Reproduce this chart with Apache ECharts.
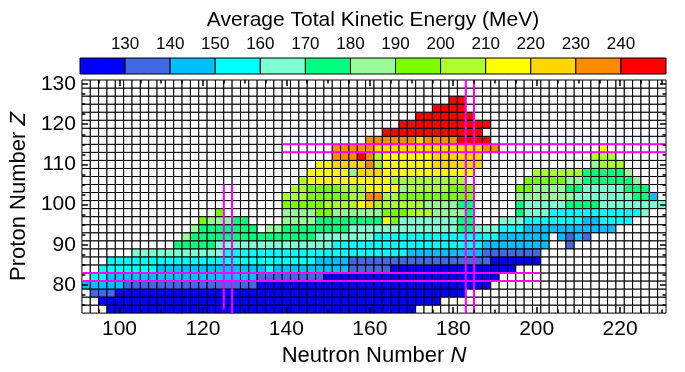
<!DOCTYPE html>
<html>
<head>
<meta charset="utf-8">
<script src="https://cdn.jsdelivr.net/npm/echarts@6/dist/echarts.min.js"></script>
<style>
  html, body { margin: 0; padding: 0; background: #fff; }
  #chart { width: 685px; height: 372px; }
</style>
</head>
<body>
<div id="chart"></div>
<script>
// colour scale (MeV)
const binEdges = [130, 140, 150, 160, 170, 180, 190, 200, 210, 220, 230, 240]
const binColors = ['#0000ff', '#4169e1', '#00bfff', '#00ffff', '#7fffd4', '#00ff7f', '#98fb98',
  '#7cfc00', '#adff2f', '#ffff00', '#ffd700', '#ff8c00', '#ff0000']
const binTke = [125, 135, 145, 155, 165, 175, 185, 195, 205, 215, 225, 235, 245]
const colorbarRange = [120, 250]

// even-even nuclei: one string per Z (74, 76, ... 130), one char per N (92, 94, ... 230)
// written in groups of 10 columns; '.' = no data, 0..c = colour bin
const neutronStart = 92
const protonStart = 74
const tkeRows = [
  '...0000000 0000000000 0000000000 0000000000 .......... .......... ..........',
  '..00000000 0000000000 0000000000 0000000000 000....... .......... ..........',
  '.111000000 0000000000 0000000000 0000000000 000000.... .......... ..........',
  '2222211111 1111111111 1000000000 0000000000 000000000. .......... ..........',
  '.332222222 2222222222 2111111110 0000000000 0000000000 .......... ..........',
  '..33333332 2222222222 2232222222 2211111000 0000000000 00........ ..........',
  '...3333333 3333333333 3333333322 2211111111 1111111110 00000..... ..........',
  '......4444 4444444333 3333333333 3333333332 2222222211 11111..... ..........',
  '.......... .555554444 4444444444 3333333333 3333333322 222222..1. ..........',
  '.......... ..65555555 5555555544 4444433333 3333333333 222222.212 1.........',
  '.......... ...6555555 5.66555555 5544444444 4444455444 3332222222 2222......',
  '.......... ....766655 ....666655 5555559744 4444455... 4443333333 223333....',
  '.......... ......7... ....666677 6666667778 8866665... ..54443333 33333334..',
  '.......... .......... ....777778 8889a88888 8666655... ..54444455 5544444444',
  '.......... .......... ....888777 7788bb8877 7777777... ..66666664 444444552.',
  '.......... .......... .....88777 7888999968 8888777... ..77666655 44444555..',
  '.......... .......... ......8999 9999999888 888888.... ...7777766 5555556...',
  '.......... .......... .......999 996aaa9999 9999999... ....888888 555556....',
  '.......... .......... ........99 aaaab89999 99aaaaaa.. .......... .6888.....',
  '.......... .......... .......... bbbcb89999 99aaaaaa.. .......... .888......',
  '.......... .......... .......... bbbbbaaaaa aaaaaaaabb .......... ..9.......',
  '.......... .......... .......... ....bbbbbb abbbbcccc. .......... ..........',
  '.......... .......... .......... ......cccc cccccccc.. .......... ..........',
  '.......... .......... .......... ........cc ccccccccc. .......... ..........',
  '.......... .......... .......... .......... ccccccc... .......... ..........',
  '.......... .......... .......... .......... ..cccc.... .......... ..........',
  '.......... .......... .......... .......... ....cc.... .......... ..........',
  '.......... .......... .......... .......... .......... .......... ..........',
  '.......... .......... .......... .......... .......... .......... ..........'
]

const xTicks = [100, 120, 140, 160, 180, 200, 220]
const xMinorTicks = [95, 105, 110, 115, 125, 130, 135, 145, 150, 155, 165, 170, 175, 185, 190, 195, 205, 210, 215, 225, 230]
const yTicks = [80, 90, 100, 110, 120, 130]
const yMinorTicks = [75, 77.5, 82.5, 85, 87.5, 92.5, 95, 97.5, 102.5, 105, 107.5, 112.5, 115, 117.5, 122.5, 125, 127.5]

// magic numbers N=126, 184 and Z=82, 114 (pairs of lines around the cell)
const magicN = [[125, 73, 105], [127, 73, 105], [183, 73, 131], [185, 73, 131]]
const magicZ = [[81, 91, 201], [83, 91, 201], [113, 139, 231], [115, 139, 231]]

const font = '"Liberation Sans", Arial, sans-serif'

function colorFor(v) {
  if (!v) return '#ffffff'
  for (let i = 0; i < binEdges.length; i++) {
    if (v < binEdges[i]) return binColors[i]
  }
  return binColors[binColors.length - 1]
}

const cells = []
tkeRows.forEach((row, r) => {
  const clean = row.replace(/ /g, '')
  for (let c = 0; c < clean.length; c++) {
    const ch = clean[c]
    cells.push([neutronStart + 2 * c, protonStart + 2 * r, ch === '.' ? 0 : binTke[parseInt(ch, 16)]])
  }
})

const boxes = binColors.map((col, i) => [
  i === 0 ? colorbarRange[0] : binEdges[i - 1],
  i === binEdges.length ? colorbarRange[1] : binEdges[i],
  i
])

const chart = echarts.init(document.getElementById('chart'))

const magicSeries = magicN.map(l => ({
  type: 'line', xAxisIndex: 0, yAxisIndex: 0, silent: true, symbol: 'none', z: 5,
  lineStyle: { color: '#ff00ff', width: 2 },
  data: [[l[0], l[1]], [l[0], l[2]]]
})).concat(magicZ.map(l => ({
  type: 'line', xAxisIndex: 0, yAxisIndex: 0, silent: true, symbol: 'none', z: 5,
  lineStyle: { color: '#ff00ff', width: 2 },
  data: [[l[1], l[0]], [l[2], l[0]]]
})))

const nameStyle = {
  fontSize: 22, color: '#000', fontFamily: font,
  rich: { i: { fontStyle: 'italic', fontSize: 22, fontFamily: font } }
}

// extra axes that only carry inward tick marks (all four sides)
function tickAxis(pos, min, max, values, len) {
  return {
    type: 'value', gridIndex: 0, min: min, max: max, position: pos, z: 10,
    splitLine: { show: false }, axisLine: { show: false }, axisLabel: { show: false },
    axisTick: { customValues: values, inside: true, length: len, lineStyle: { color: '#000', width: 1.5 } }
  }
}

chart.setOption({
  animation: false,
  graphic: [{
    type: 'text', x: 373, y: 20,
    style: { text: 'Average Total Kinetic Energy (MeV)', font: '21px ' + font, fill: '#000', align: 'center', verticalAlign: 'middle' }
  }],
  grid: [
    { left: 80, top: 80, width: 586, height: 243 },
    { left: 80, top: 58, width: 586, height: 16 }
  ],
  xAxis: [{
    type: 'value', gridIndex: 0, min: 91, max: 231,
    splitLine: { show: false },
    axisLine: { show: false },
    axisTick: { show: false },
    axisLabel: { customValues: xTicks, fontSize: 21, color: '#000', fontFamily: font, margin: 6 },
    name: 'Neutron Number {i|N}', nameLocation: 'middle', nameGap: 31,
    nameTextStyle: nameStyle
  }, {
    type: 'value', gridIndex: 1, min: colorbarRange[0], max: colorbarRange[1], position: 'top',
    splitLine: { show: false },
    axisLine: { show: false },
    axisTick: { show: false },
    axisLabel: { customValues: binEdges, fontSize: 17, color: '#000', fontFamily: font, margin: 5 }
  },
  tickAxis('bottom', 91, 231, xTicks, 6),
  tickAxis('bottom', 91, 231, xMinorTicks, 3.5),
  tickAxis('top', 91, 231, xTicks, 6),
  tickAxis('top', 91, 231, xMinorTicks, 3.5)],
  yAxis: [{
    type: 'value', gridIndex: 0, min: 73, max: 131,
    splitLine: { show: false },
    axisLine: { show: false },
    axisTick: { show: false },
    axisLabel: { customValues: yTicks, fontSize: 21, color: '#000', fontFamily: font, margin: 6 },
    name: 'Proton Number {i|Z}', nameLocation: 'middle', nameGap: 46,
    nameTextStyle: nameStyle
  }, {
    type: 'value', gridIndex: 1, min: 0, max: 1, show: false
  },
  tickAxis('left', 73, 131, yTicks, 6),
  tickAxis('left', 73, 131, yMinorTicks, 3.5),
  tickAxis('right', 73, 131, yTicks, 6),
  tickAxis('right', 73, 131, yMinorTicks, 3.5)],
  series: [{
    type: 'custom', xAxisIndex: 0, yAxisIndex: 0, silent: true, z: 2,
    data: cells,
    renderItem(params, api) {
      const n = api.value(0), z = api.value(1)
      const p0 = api.coord([n - 1, z + 1])
      const p1 = api.coord([n + 1, z - 1])
      return {
        type: 'rect',
        shape: { x: p0[0], y: p0[1], width: p1[0] - p0[0], height: p1[1] - p0[1] },
        style: { fill: colorFor(api.value(2)), stroke: '#000', lineWidth: 1 }
      }
    }
  }, {
    type: 'custom', xAxisIndex: 1, yAxisIndex: 1, silent: true,
    data: boxes,
    renderItem(params, api) {
      const p0 = api.coord([api.value(0), 1])
      const p1 = api.coord([api.value(1), 0])
      return {
        type: 'rect',
        shape: { x: p0[0], y: p0[1], width: p1[0] - p0[0], height: p1[1] - p0[1] },
        style: { fill: binColors[api.value(2)], stroke: '#000', lineWidth: 1 }
      }
    }
  }].concat(magicSeries)
})
</script>
</body>
</html>
